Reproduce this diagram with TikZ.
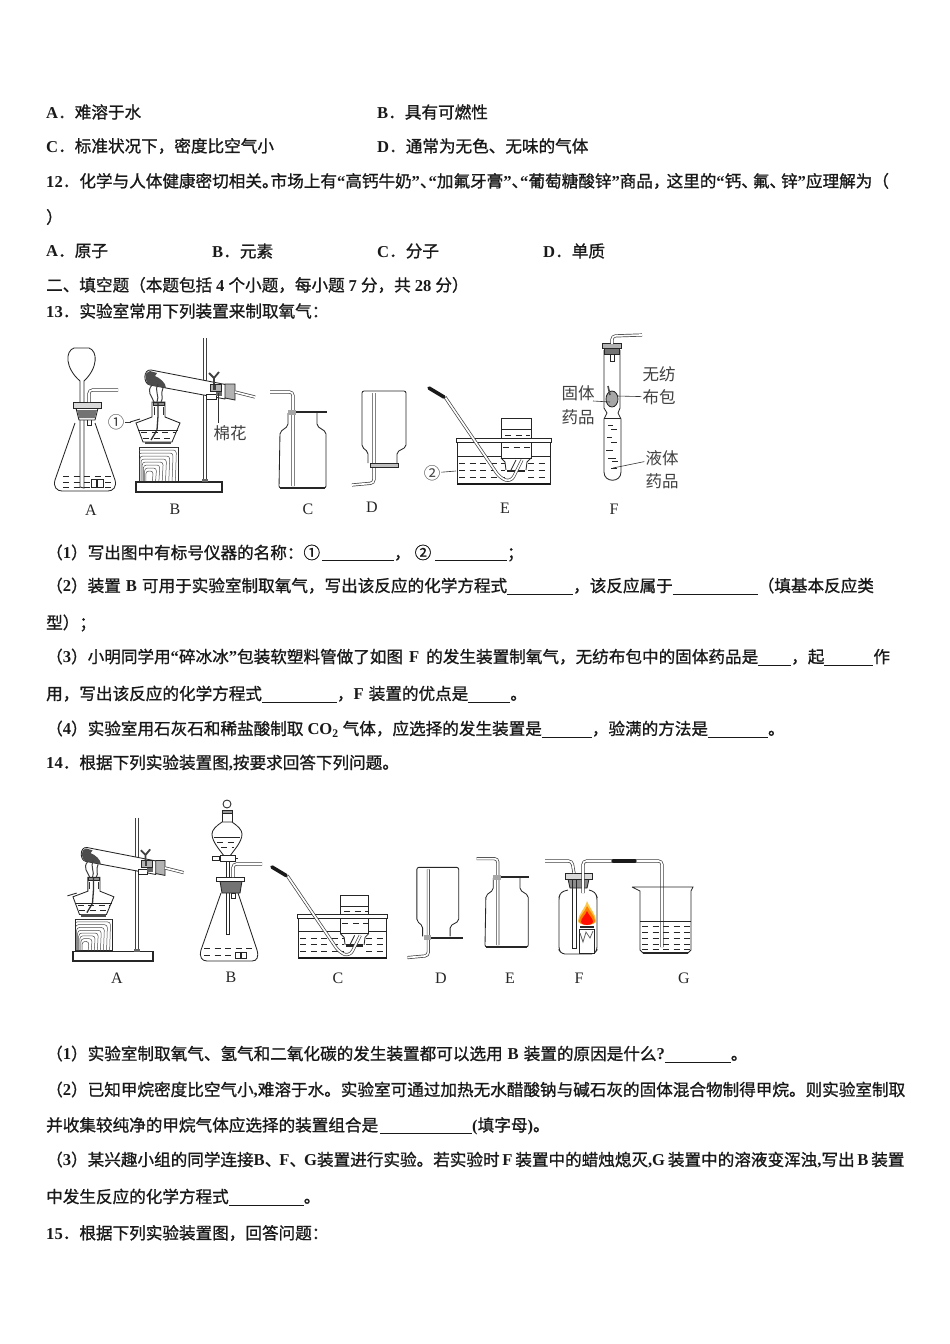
\documentclass[tikz,border=0pt]{standalone}
\usepackage{fontspec}
\setmainfont{Liberation Serif}
\newfontfamily\cjb{Noto Sans CJK SC}[FakeBold=1.0]
\newfontfamily\cjl{Noto Sans CJK SC}
\newfontfamily\latb{Liberation Serif}
\newfontfamily\latr{Liberation Serif}
\newcommand{\lat}[1]{{\latb\bfseries #1}}
\newcommand{\bk}[1]{\rule[-2.5pt]{#1pt}{0.8pt}}
\newcommand{\nar}{\hspace{-8pt}}
\newcommand{\gp}[1]{\hspace{#1pt}}
\newcommand{\txtl}[4]{\node[txt] (#1) at (#2,#3) {#4};}
\newcommand{\figl}[4]{\node[figlab] (#1) at (#2,#3) {#4};}
\tikzset{
 txt/.style={anchor=west,inner sep=0pt,font=\fontsize{16.6}{16.6}\cjb,text=black!90},
 figlab/.style={inner sep=1pt,font=\fontsize{16}{16}\latr,text=black!85},
 cjlab/.style={inner sep=1pt,font=\fontsize{16.5}{16.5}\cjl,text=black!75},
 gl/.style={line width=.85pt,draw=black!85},
 tube/.style={draw=black!75,double=white,double distance=1.7pt,line width=.7pt,rounded corners=3.5pt},
 rubber/.style={line width=3.6pt,draw=black!90,line cap=round},
 liq/.style={line width=.9pt,draw=black!85,dash pattern=on 6pt off 4.5pt},
 wire/.style={line width=.6pt,draw=black!80},
 grain/.style={line width=.5pt,draw=black!70,rounded corners=3pt},
 thickplate/.style={line width=2.6pt,draw=black!85}
}
% spirit lamp, block, iron stand and heated test tube
\newcommand{\lampstand}{
 \draw[gl,line width=1.2pt,fill=white] (136,482) rectangle (222,492);
 \draw[tube,double distance=2.2pt] (205,338) -- (205,481);
 \fill[black!60] (202,479) rectangle (208,482);
 \draw[gl,fill=white] (139,447) rectangle (178,481);
 \begin{scope}
  \clip (139,447) rectangle (178,481);
  \foreach \r in {1.5,3,...,13.5}{
   \draw[grain] ({147-\r*.8},481) -- ({147-\r*.8},{474-\r*2}) -- ({150+\r*2.2},{474-\r*2}) -- ({149+\r*2.2},481);
  }
 \end{scope}
 \draw[gl,fill=white] (152,402) -- (152,417) -- (136,423) -- (143,442) -- (172,442) -- (180,423) -- (165,417) -- (165,402) -- cycle;
 \draw[gl] (130,422) -- (140,419);
 \draw[gl,fill=black!45] (153,402) rectangle (164,405);
 \draw[line width=1.3pt,draw=black!80] (158,402) -- (158,416) -- (157,430) -- (151,440);
 \draw[line width=.9pt,black!80] (154,407) -- (154,415) (163,407) -- (163,415);
 \draw[line width=2.6pt,black!70] (145,443) -- (171,443);
 \draw[liq] (141,432) -- (176,432);
 \draw[liq] (143,438) -- (172,438);
 \draw[gl] (138,430) -- (178,430);
 \draw[gl,fill=white] (228,385) -- (151,370) .. controls (143,369) and (143,384) .. (150,385) -- (225,399) -- cycle;
 \fill[black!70] (150,371) .. controls (144,371) and (144,383) .. (150,385) -- (166,388) .. controls (166,383) and (160,378) .. (155,376) -- (157,373) -- cycle;
 \draw[line width=1pt,black!75] (152,385) .. controls (146,392) and (152,396) .. (154,402)
   (158,384) .. controls (154,391) and (160,396) .. (157,402)
   (163,388) .. controls (160,394) and (164,398) .. (161,402);
 \draw[gl,fill=black!30] (225,384) -- (235,384) -- (235,400) -- (225,398) -- cycle;
 \draw[tube] (235,392) -- (255,397);
 \draw[gl,fill=black!30] (210,384) rectangle (221,391);
 \fill[black!75] (213,385) rectangle (216,390);
 \draw[gl,fill=white] (206,394) rectangle (216,399);
 \fill[black!60] (216,392) rectangle (222,396);
 \draw[line width=1.8pt,black!75] (209,373) -- (214,378) -- (219,372) (214,378) -- (214,384);
}
% pneumatic trough with tube and inverted jar
\newcommand{\troughset}{
 \draw[gl,fill=white] (501,418) rectangle (531,458);
 \draw[gl] (501,429) -- (531,429);
 \draw[gl,line width=1pt] (457,441) -- (457,484) -- (550,484) -- (550,441);
 \draw[line width=1.6pt,black!90] (457,484) -- (550,484);
 \draw[gl,fill=white] (456,438) rectangle (551,442);
 \draw[gl] (457,456) -- (501,456) (531,456) -- (550,456);
 \foreach \yy in {463,470,477}{
   \draw[liq] (459,\yy) -- (505,\yy);
   \draw[liq] (528,\yy) -- (549,\yy);
 }
 \draw[liq] (505,435) -- (530,435);
 \draw[liq] (503,447) -- (530,447);
 \draw[gl] (501,458) -- (505,462) -- (506,470);
 \draw[gl] (531,458) -- (527,462) -- (526,470);
 \draw[line width=2.8pt,black!85] (507,471) -- (525,471);
 \draw[tube,rounded corners=6pt] (445,397) -- (500,478) -- (511,482) -- (522,460);
 \draw[gl] (516,460) -- (511,470);
 \draw[rubber] (429,388) -- (444,397);
}
% gas jar with tube on the left
\newcommand{\gasjar}{
 \draw[gl,rounded corners=2pt] (288,413) -- (288,426) -- (280,432) -- (279,488) -- (326,488) -- (326,432) -- (317,426) -- (317,413);
 \draw[line width=1.3pt,black!85] (280,488) -- (325,488);
 \draw[thickplate] (292,412) -- (327,412);
 \draw[tube] (270,392) -- (293,392) -- (293,486);
 \fill[black!35] (288,410) rectangle (296,415);
}
% inverted jar
\newcommand{\upjar}{
 \draw[gl,rounded corners=2pt] (368,463) -- (368,452) -- (362,447) -- (362,391) -- (406,391) -- (406,447) -- (397,452) -- (397,463);
 \draw[tube] (374,393) -- (374,483) -- (352,485);
}
\begin{document}
\begin{tikzpicture}[x=1pt,y=-1pt]
\useasboundingbox (0,0) rectangle (950,1344);
\fill[white] (0,0) rectangle (950,1344);
%% text
\txtl{a1}{46}{112}{\lat{A}．难溶于水}
\txtl{a2}{377}{112}{\lat{B}．具有可燃性}
\txtl{a3}{46}{146}{\lat{C}．标准状况下，密度比空气小}
\txtl{a4}{377}{146}{\lat{D}．通常为无色、无味的气体}
\txtl{a5}{46}{181}{\lat{12}．化学与人体健康密切相关。\nar 市场上有\lat{“}高钙牛奶\lat{”}、\nar\lat{“}加氟牙膏\lat{”}、\nar\lat{“}葡萄糖酸锌\lat{”}商品，\gp{-3}这里的\lat{“}钙、\gp{-5}氟、\gp{-5}锌\lat{”}应理解为（}
\txtl{a6}{46}{217}{）}
\txtl{a7}{46}{251}{\lat{A}．原子}
\txtl{a8}{212}{251}{\lat{B}．元素}
\txtl{a9}{377}{251}{\lat{C}．分子}
\txtl{a10}{543}{251}{\lat{D}．单质}
\txtl{a11}{46}{285}{二、填空题（本题包括\lat{\gp{4}4\gp{4}}个小题，每小题\lat{\gp{4}7\gp{4}}分，共\lat{\gp{4}28\gp{4}}分）}
\txtl{a12}{46}{311}{\lat{13}．实验室常用下列装置来制取氧气：}
\txtl{b1}{46}{553}{（\lat{1}）写出图中有标号仪器的名称：①\gp{2}\bk{72}，\gp{4}② \bk{72}；}
\txtl{b2}{46}{586}{（\lat{2}）装置\lat{\gp{5}B\gp{5}}可用于实验室制取氧气，写出该反应的化学方程式\bk{66}，该反应属于\bk{85}（填基本反应类}
\txtl{b3}{46}{623}{型）；}
\txtl{b4}{46}{657}{（\lat{3}）小明同学用\lat{“}碎冰冰\lat{”}包装软塑料管做了如图\lat{\gp{6}F\gp{7}}的发生装置制氧气，无纺布包中的固体药品是\bk{33}，起\bk{49}作}
\txtl{b5}{46}{694}{用，写出该反应的化学方程式\bk{75}，\lat{F\gp{5}}装置的优点是\bk{42}。}
\txtl{b6}{46}{729}{（\lat{4}）实验室用石灰石和稀盐酸制取\lat{\gp{4}CO\textsubscript{2}\gp{4}}气体，应选择的发生装置是\bk{50}，验满的方法是\bk{60}。}
\txtl{b7}{46}{763}{\lat{14}．根据下列实验装置图\lat{,}按要求回答下列问题。}
\txtl{c1}{46}{1054}{（\lat{1}）实验室制取氧气、氢气和二氧化碳的发生装置都可以选用\lat{\gp{5}B\gp{5}}装置的原因是什么\lat{?}\bk{66}。}
\txtl{c2}{46}{1090}{（\lat{2}）已知甲烷密度比空气小\lat{,}难溶于水。实验室可通过加热无水醋酸钠与碱石灰的固体混合物制得甲烷。则实验室制取}
\txtl{c3}{46}{1126}{并收集较纯净的甲烷气体应选择的装置组合是\gp{2}\bk{92}\lat{(}填字母\lat{)}。}
\txtl{c4}{46}{1160}{（\lat{3}）某兴趣小组的同学连接\lat{B}、\gp{-2}\lat{F}、\gp{-2}\lat{G}装置进行实验。若实验时\lat{\,F\,}装置中的蜡烛熄灭\lat{,G\,}装置中的溶液变浑浊\lat{,}写出\lat{\,B\,}装置}
\txtl{c5}{46}{1197}{中发生反应的化学方程式\bk{75}。}
\txtl{c6}{46}{1233}{\lat{15}．根据下列实验装置图，回答问题：}

%% Figure 1 - A
\draw[gl] (74,348) -- (89,348) .. controls (98,351) and (98,368) .. (84,381) -- (84,402);
\draw[gl] (74,348) .. controls (65,351) and (65,368) .. (80,381) -- (80,402);
\draw[gl,fill=white] (76,408) -- (79,420) -- (95,420) -- (98,408) -- cycle;
\fill[black!55] (77,410) -- (79,418) -- (95,418) -- (97,410) -- cycle;
\draw[gl,fill=black!15] (73,402) rectangle (101,408);
\draw[gl] (75,423) -- (55,480) .. controls (53,487) and (57,491) .. (62,491) -- (108,491) .. controls (113,491) and (117,487) .. (115,480) -- (95,423);
\draw[gl] (80,420) -- (80,487) -- (84,488) -- (84,420);
\draw[gl] (87,420) -- (87,425) -- (91,425) -- (91,420);
\draw[tube] (89,402) -- (89,390) -- (118,390);
\foreach \yy in {476,482,487}{\draw[liq] (63,\yy) -- (112,\yy);}
\draw[gl,fill=white] (91,479) rectangle (96,487) (97,479) rectangle (103,487);
\figl{fa}{91}{510}{A}
%% Figure 1 - B
\begin{scope}
\lampstand
\end{scope}
\node[cjlab] (n1) at (116,422) {①};
\coordinate (n1e) at (131,422);
\draw[wire] (n1) -- (n1e);
\node[cjlab,inner sep=2pt] (cotton) at (230,433) {棉花};
\coordinate (cottone) at (218,393);
\draw[wire] (218,423) -- (cottone);
\figl{fb}{175}{509}{B}
%% Figure 1 - C
\gasjar
\figl{fc}{308}{509}{C}
%% Figure 1 - D
\upjar
\draw[gl,fill=black!25] (370,463) rectangle (398,467);
\figl{fd}{372}{507}{D}
%% Figure 1 - E
\troughset
\node[cjlab] (n2) at (432,473) {②};
\coordinate (n2e) at (456,471);
\draw[wire] (n2) -- (n2e);
\figl{fe}{505}{508}{E}
%% Figure 1 - F
\draw[gl] (604,350) -- (604,408) -- (607,413) -- (604,419) -- (604,472) .. controls (604,483) and (621,483) .. (621,472) -- (621,419) -- (618,413) -- (620,408) -- (620,350);
\draw[gl] (604,418) -- (621,418);
\draw[gl,line width=1pt,fill=black!30] (602,343) rectangle (621,348);
\draw[gl,fill=black!55] (604,348) rectangle (619,354);
\draw[gl,fill=white] (610,354) rectangle (614,361);
\draw[tube] (612,344) -- (612,336) -- (642,335);
\draw[gl,fill=black!35] (612,399) ellipse (6pt and 8pt);
\draw[line width=1.6pt,black!70] (608,386) -- (610,395);
\foreach \yy/\xa/\xb in {425/608/613,429/611/617,437/607/612,442/611/617,450/606/613,458/608/616,461/612/618,468/611/617}{
 \draw[line width=.9pt,black!85] (\xa,\yy) -- (\xb,\yy);
}
\node[cjlab] (fa1) at (659,374) {无纺};
\node[cjlab] (fa2) at (659,397) {布包};
\node[cjlab] (fb1) at (578,393) {固体};
\node[cjlab] (fb2) at (578,417) {药品};
\node[cjlab] (fc1) at (662,458) {液体};
\node[cjlab] (fc2) at (662,481) {药品};
\coordinate (fa2e) at (617,396);
\coordinate (fb1e) at (610,402);
\coordinate (fc1e) at (613,468);
\draw[wire] (fa2) -- (fa2e);
\draw[wire] (593,401) -- (fb1e);
\draw[wire] (fc1) -- (fc1e);
\figl{ff}{614}{509}{F}

%% Figure 2 - A
\begin{scope}[shift={(-53.5,503.4)},scale=.93]
\lampstand
\end{scope}
\figl{ga}{117}{978}{A}
%% Figure 2 - B
\draw[gl] (227,804) circle (4pt);
\draw[gl] (222,810) -- (222,822) (232,810) -- (232,822);
\draw[gl,fill=black!40] (222,810) rectangle (232,813);
\draw[gl,fill=white] (222,822) .. controls (216,826) and (212,830) .. (212,834) .. controls (212,842) and (220,850) .. (224,856) -- (230,856) .. controls (234,850) and (242,842) .. (242,834) .. controls (242,830) and (238,826) .. (232,822) -- cycle;
\draw[gl] (214,837) -- (240,837);
\draw[liq] (217,842) -- (238,842);
\draw[liq] (221,847) -- (234,847);
\draw[gl,fill=white] (220,855) -- (220,861) -- (235,861) -- (235,855) -- cycle;
\draw[gl,fill=white] (212,856) rectangle (219,860);
\draw[gl] (235,858) -- (238,858);
\draw[gl] (226,861) -- (226,877) (229,861) -- (229,877);
\draw[gl] (221,893) -- (201,950) .. controls (199,957) and (202,961) .. (207,961) -- (252,961) .. controls (257,961) and (259,957) .. (257,950) -- (238,893);
\draw[gl] (226,893) -- (226,934) -- (229,934) -- (229,893);
\draw[gl,fill=black!55] (220,881) -- (222,893) -- (240,893) -- (242,881) -- cycle;
\draw[gl,fill=white] (216,877) rectangle (244,881);
\draw[gl,fill=white] (231,893) rectangle (235,898);
\draw[tube] (233,877) -- (233,864) -- (262,864);
\draw[liq] (204,948) -- (254,948);
\draw[liq] (204,955) -- (233,955);
\draw[gl,fill=white] (235,952) rectangle (240,958) (241,952) rectangle (246,958);
\figl{gb}{231}{977}{B}
%% Figure 2 - C
\begin{scope}[shift={(-135.6,498.4)},scale=.95]
\troughset
\end{scope}
\figl{gc}{338}{978}{C}
%% Figure 2 - D
\begin{scope}[shift={(73,492)},xscale=.95,yscale=.96]
\upjar
\end{scope}
\draw[thickplate] (425,938) -- (463,938);
\fill[black!35] (424,935) rectangle (431,940);
\figl{gd}{441}{978}{D}
%% Figure 2 - E
\begin{scope}[shift={(228.3,498)},scale=.92]
\gasjar
\end{scope}
\figl{ge}{510}{978}{E}
%% Figure 2 - F
\draw[gl,rounded corners=3pt] (568,890) -- (561,892) -- (559,897) -- (559,950) -- (562,954) -- (594,954) -- (597,950) -- (597,897) -- (595,892) -- (589,890);
\draw[gl,fill=black!45] (568,879) -- (570,888) -- (587,888) -- (589,879) -- cycle;
\draw[gl,fill=black!15] (565,873) rectangle (592,879);
\draw[tube] (545,861) -- (572,861) -- (574,873);
\draw[gl] (572,879) -- (572,948) -- (576,948) -- (576,879);
\draw[tube] (583,893) -- (583,861) -- (612,861);
\draw[tube] (635,861) -- (662,861) -- (662,947);
\draw[rubber,line width=3.2pt] (613,861) -- (635,861);
\draw[gl,fill=white] (579,929) rectangle (594,953);
\draw[line width=.8pt,black!60] (580,933) -- (583,942) -- (586,932) -- (590,938) -- (593,931);
\draw[line width=2.4pt,black!85] (580,927) -- (594,927);
\fill[yellow!40!orange!70] (587,901) .. controls (590,909) and (596,914) .. (596,921) .. controls (596,926) and (578,926) .. (578,921) .. controls (578,914) and (585,909) .. (587,901) -- cycle;
\fill[orange] (587,906) .. controls (590,912) and (595,916) .. (595,921) .. controls (595,926) and (579,926) .. (579,921) .. controls (579,916) and (585,912) .. (587,906) -- cycle;
\fill[red!90!orange] (587,911) .. controls (589,916) and (593,918) .. (593,922) .. controls (593,926) and (581,926) .. (581,922) .. controls (581,918) and (585,916) .. (587,911) -- cycle;
\figl{gf}{579}{978}{F}
%% Figure 2 - G
\draw[gl] (632,887) -- (693,887) -- (691,891) -- (691,950) -- (688,953) -- (643,953) -- (640,950) -- (640,891) -- (636,889) -- (632,887);
\draw[line width=1.4pt,black!85] (643,953) -- (688,953);
\draw[gl] (640,921) -- (691,921);
\foreach \yy in {926,932,938,944,949}{\draw[liq] (642,\yy) -- (690,\yy);}
\figl{gg}{684}{978}{G}
\end{tikzpicture}
\end{document}
